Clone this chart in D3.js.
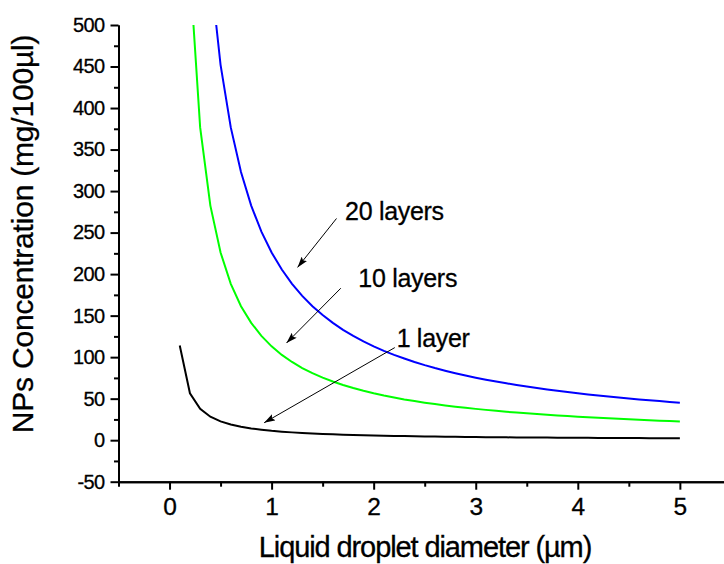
<!DOCTYPE html>
<html>
<head>
<meta charset="utf-8">
<script src="https://cdn.jsdelivr.net/npm/d3@7.9.0/dist/d3.min.js"></script>
<style>
  body { margin: 0; background: #fff; }
  svg text { font-family: "Liberation Sans", Arial, sans-serif; fill: #000; stroke: #000; stroke-width: 0.3px; }
</style>
</head>
<body>
<svg id="chart" width="724" height="564"></svg>
<script>
// droplet diameter (um)
const diameters = [0.1, 0.2, 0.3, 0.4, 0.5, 0.6, 0.7, 0.8, 0.9, 1.0,
  1.1, 1.2, 1.3, 1.4, 1.5, 1.6, 1.7, 1.8, 1.9, 2.0,
  2.1, 2.2, 2.3, 2.4, 2.5, 2.6, 2.7, 2.8, 2.9, 3.0,
  3.1, 3.2, 3.3, 3.4, 3.5, 3.6, 3.7, 3.8, 3.9, 4.0,
  4.1, 4.2, 4.3, 4.4, 4.5, 4.6, 4.7, 4.8, 4.9, 5.0];

// NPs concentration (mg/100ul)
const layers1 = [114, 56.5, 37.7, 28.3, 22.6, 18.8, 16.1, 14.1, 12.6, 11.3,
  10.3, 9.4, 8.7, 8.1, 7.5, 7.1, 6.6, 6.3, 5.9, 5.7,
  5.4, 5.1, 4.9, 4.7, 4.5, 4.3, 4.2, 4.0, 3.9, 3.8,
  3.6, 3.5, 3.4, 3.3, 3.2, 3.1, 3.1, 3.0, 2.9, 2.8,
  2.8, 2.7, 2.6, 2.6, 2.5, 2.5, 2.4, 2.4, 2.3, 2.3];
const layers10 = [1130, 565, 376.7, 282.5, 226, 188.3, 161.4, 141.3, 125.6, 113,
  102.7, 94.2, 86.9, 80.7, 75.3, 70.6, 66.5, 62.8, 59.5, 56.5,
  53.8, 51.4, 49.1, 47.1, 45.2, 43.5, 41.9, 40.4, 39.0, 37.7,
  36.5, 35.3, 34.2, 33.2, 32.3, 31.4, 30.5, 29.7, 29.0, 28.3,
  27.6, 26.9, 26.3, 25.7, 25.1, 24.6, 24.0, 23.5, 23.1, 22.6];
const layers20 = [2260, 1130, 753.3, 565, 452, 376.7, 322.9, 282.5, 251.1, 226,
  205.5, 188.3, 173.8, 161.4, 150.7, 141.3, 132.9, 125.6, 118.9, 113,
  107.6, 102.7, 98.3, 94.2, 90.4, 86.9, 83.7, 80.7, 77.9, 75.3,
  72.9, 70.6, 68.5, 66.5, 64.6, 62.8, 61.1, 59.5, 57.9, 56.5,
  55.1, 53.8, 52.6, 51.4, 50.2, 49.1, 48.1, 47.1, 46.1, 45.2];

const xTicks = [0, 1, 2, 3, 4, 5];
const xMinorTicks = [-0.5, 0.5, 1.5, 2.5, 3.5, 4.5, 5.5];
const yTicks = [-50, 0, 50, 100, 150, 200, 250, 300, 350, 400, 450, 500];
const yMinorTicks = [-25, 25, 75, 125, 175, 225, 275, 325, 375, 425, 475];

// annotation: label, text anchor (d, value), arrow start, arrow tip
const annotations = [
  { label: "20 layers", tx: 1.72, ty: 265, x1: 1.636, y1: 267, x2: 1.254, y2: 208 },
  { label: "10 layers", tx: 1.85, ty: 185, x1: 1.678, y1: 183, x2: 1.146, y2: 117 },
  { label: "1 layer", tx: 2.225, ty: 112.5, x1: 2.207, y1: 111.5, x2: 0.927, y2: 21 }
];

const series = [
  { name: "1 layer", values: layers1, color: "#000000" },
  { name: "10 layers", values: layers10, color: "#00ff00" },
  { name: "20 layers", values: layers20, color: "#0000ff" }
];

const svg = d3.select("#chart");

const x = d3.scaleLinear().domain([-0.5, 5.5]).range([118.5, 730.9]);
const y = d3.scaleLinear().domain([-50, 500]).range([481.7, 25]);

svg.append("defs")
  .append("clipPath")
  .attr("id", "plot-clip")
  .append("rect")
  .attr("x", x(-0.5))
  .attr("y", y(500))
  .attr("width", x(5.5) - x(-0.5))
  .attr("height", y(-50) - y(500));

svg.select("defs")
  .append("marker")
  .attr("id", "arrow")
  .attr("markerUnits", "userSpaceOnUse")
  .attr("viewBox", "0 0 11 7")
  .attr("markerWidth", 11)
  .attr("markerHeight", 7)
  .attr("refX", 11)
  .attr("refY", 3.5)
  .attr("orient", "auto")
  .append("path")
  .attr("d", "M0,0 L11,3.5 L0,7 L2,3.5 Z")
  .attr("fill", "#000");

// curves
const line = d3.line()
  .x((d) => x(d[0]))
  .y((d) => y(d[1]));

svg.append("g")
  .attr("clip-path", "url(#plot-clip)")
  .selectAll("path")
  .data(series)
  .join("path")
  .attr("d", (s) => line(diameters.map((d, i) => [d, s.values[i]])))
  .attr("fill", "none")
  .attr("stroke", (s) => s.color)
  .attr("stroke-width", 2);

// axes
const styleAxis = (g) => {
  g.selectAll("path.domain").attr("stroke", "#000").attr("stroke-width", 2);
  g.selectAll(".tick line").attr("stroke", "#000").attr("stroke-width", 2);
};

const plain = (d) => String(d);

svg.append("g")
  .attr("transform", `translate(0,${y(-50)})`)
  .call(d3.axisBottom(x).tickValues(xMinorTicks).tickSize(5).tickSizeOuter(0).tickFormat(""))
  .call(styleAxis);

svg.append("g")
  .attr("transform", `translate(0,${y(-50)})`)
  .call(d3.axisBottom(x).tickValues(xTicks).tickSize(8).tickSizeOuter(0).tickPadding(7.6)
    .tickFormat(plain))
  .call(styleAxis)
  .call((g) => g.selectAll("text").style("font-size", "24.5px"));

svg.append("g")
  .attr("transform", `translate(${x(-0.5)},0)`)
  .call(d3.axisLeft(y).tickValues(yMinorTicks).tickSize(4.5).tickSizeOuter(0).tickFormat(""))
  .call(styleAxis);

svg.append("g")
  .attr("transform", `translate(${x(-0.5)},0)`)
  .call(d3.axisLeft(y).tickValues(yTicks).tickSize(8).tickSizeOuter(0).tickPadding(6)
    .tickFormat(plain))
  .call(styleAxis)
  .call((g) => g.selectAll("text")
    .style("font-size", "20px")
    .style("letter-spacing", "-0.6px"));

// axis titles
svg.append("text")
  .attr("x", 425)
  .attr("y", 557.3)
  .attr("text-anchor", "middle")
  .style("font-size", "29px")
  .style("letter-spacing", "-1.1px")
  .text("Liquid droplet diameter (\u00b5m)");

svg.append("text")
  .attr("transform", "translate(33.3,234) rotate(-90)")
  .attr("text-anchor", "middle")
  .style("font-size", "30px")
  .style("letter-spacing", "-0.2px")
  .text("NPs Concentration (mg/100\u00b5l)");

// annotations
const notes = svg.append("g");

notes.selectAll("line")
  .data(annotations)
  .join("line")
  .attr("x1", (a) => x(a.x1))
  .attr("y1", (a) => y(a.y1))
  .attr("x2", (a) => x(a.x2))
  .attr("y2", (a) => y(a.y2))
  .attr("stroke", "#000")
  .attr("stroke-width", 1)
  .attr("marker-end", "url(#arrow)");

notes.selectAll("text")
  .data(annotations)
  .join("text")
  .attr("x", (a) => x(a.tx))
  .attr("y", (a) => y(a.ty))
  .style("font-size", "25px")
  .style("letter-spacing", "-0.3px")
  .text((a) => a.label);
</script>
</body>
</html>
